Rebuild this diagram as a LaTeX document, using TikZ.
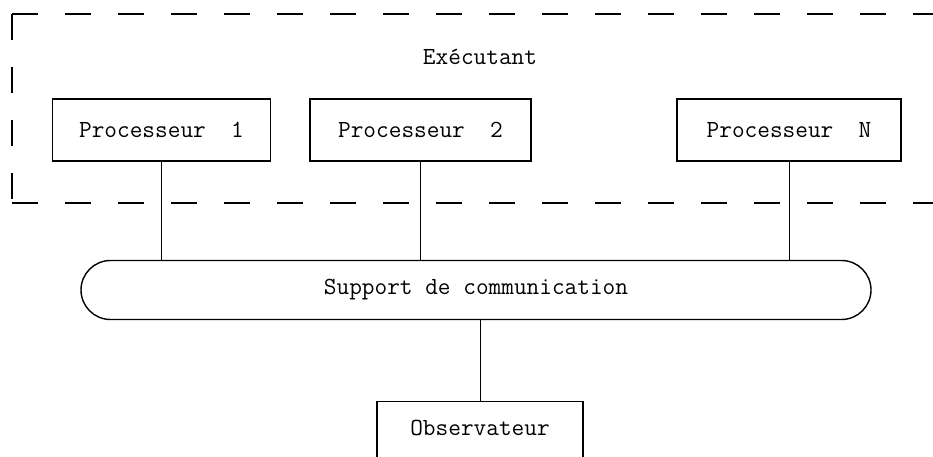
\documentclass[tikz,border=0pt]{standalone}
\usepackage{fontspec}
\begin{document}
\begin{tikzpicture}[x=1pt,y=-1pt,
  txt/.style={font=\fontsize{24.6}{28}\selectfont\ttfamily},
  procbox/.style={draw,line width=1.4pt,txt,minimum height=62pt,inner sep=0pt},
  frameline/.style={line width=1.6pt,dash pattern=on 26pt off 27pt},
  conn/.style={line width=0.9pt}]
\useasboundingbox (0,0) rectangle (933,457);
\clip (0,0) rectangle (933,457);
% dashed frame (open on the right)
\draw[frameline] (12,14) -- (945,14);
\draw[frameline] (12,14) -- (12,203);
\draw[frameline] (12,203) -- (945,203);
\node[txt] (exec) at (480,57) {Exécutant};
% processors
\node[procbox,minimum width=218pt] (p1) at (161.5,130) {Processeur\ \ 1};
\node[procbox,minimum width=221pt] (p2) at (420.5,130) {Processeur\ \ 2};
\node[procbox,minimum width=224pt] (pn) at (789,130) {Processeur\ \ N};
% communication support
\node[draw,line width=1.4pt,txt,rounded corners=29.5pt,minimum width=790pt,minimum height=59pt,inner sep=0pt] (sup) at (476,290) {Support de communication};
% observer (cut by the lower edge)
\node[draw,line width=1.4pt,txt,anchor=north,minimum width=206pt,inner xsep=0pt,inner ysep=10pt,text height=24pt,text depth=25pt] (obs) at (480,401) {Observateur};
% connectors
\draw[conn] (p1.south) -- (p1.south |- sup.north);
\draw[conn] (p2.south) -- (p2.south |- sup.north);
\draw[conn] (pn.south) -- (pn.south |- sup.north);
\draw[conn] (obs.north) -- (obs.north |- sup.south);
\end{tikzpicture}
\end{document}
